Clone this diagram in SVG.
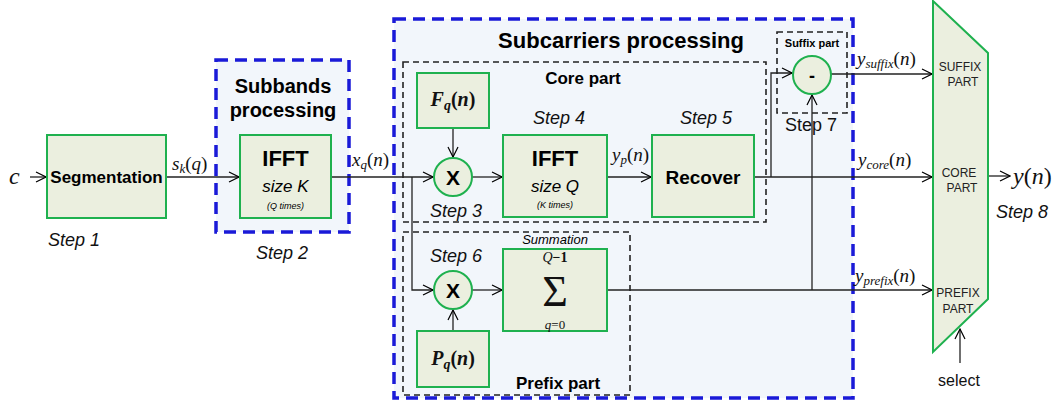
<svg xmlns="http://www.w3.org/2000/svg" width="1054" height="406" viewBox="0 0 1054 406">
<defs>
<marker id="arr" markerWidth="12" markerHeight="12" refX="11" refY="6" orient="auto" markerUnits="userSpaceOnUse">
<path d="M1,1 L11,6 L1,11" fill="none" stroke="#000" stroke-width="1.2"/>
</marker>
<style>
.box{fill:#ebefdf;stroke:#1fb14f;stroke-width:2}
.blue{fill:#f2f6fb;stroke:#1a1ad8;stroke-width:3.5;stroke-dasharray:12 7}
.blk{fill:none;stroke:#222;stroke-width:1.6;stroke-dasharray:6 4}
.ln{fill:none;stroke:#222;stroke-width:1.3}
.sans{font-family:"Liberation Sans",Arial,sans-serif}
.b{font-weight:bold}
.it{font-style:italic}
.step{font-family:"Liberation Sans",Arial,sans-serif;font-style:italic;font-size:18px;fill:#111}
.math{font-family:"Liberation Serif","DejaVu Serif",serif;fill:#111}
.mux{font-family:"Liberation Sans",Arial,sans-serif;font-size:12px;fill:#222}
</style>
</defs>
<rect width="1054" height="406" fill="#fff"/>

<!-- containers -->
<g id="subbands">
<rect class="blue" x="216" y="60" width="133" height="172"/>
<text class="sans b" x="283" y="93" font-size="20" text-anchor="middle">Subbands</text>
<text class="sans b" x="283" y="117" font-size="20" text-anchor="middle">processing</text>
</g>
<g id="subcarriers">
<rect class="blue" x="394" y="19" width="459" height="379"/>
<text class="sans b" x="621" y="48" font-size="22" text-anchor="middle">Subcarriers processing</text>
</g>
<g id="corepart">
<rect class="blk" x="403" y="62" width="363" height="160"/>
<text class="sans b" x="583" y="84" font-size="17" text-anchor="middle">Core part</text>
</g>
<g id="prefixpart">
<rect class="blk" x="403" y="232" width="227" height="163"/>
<text class="sans b" x="558" y="389" font-size="17" text-anchor="middle">Prefix part</text>
</g>
<g id="suffixpart">
<rect class="blk" x="777" y="32" width="70" height="81"/>
<text class="sans b" x="812" y="47" font-size="11" text-anchor="middle">Suffix part</text>
</g>

<!-- connectors -->
<g id="connectors">
<path class="ln" d="M30,177 H46" marker-end="url(#arr)"/>
<path class="ln" d="M166,177 H239" marker-end="url(#arr)"/>
<path class="ln" d="M331,177 H433" marker-end="url(#arr)"/>
<path class="ln" d="M412,177 V290 H433" marker-end="url(#arr)"/>
<path class="ln" d="M453,128 V157" marker-end="url(#arr)"/>
<path class="ln" d="M453,331 V310" marker-end="url(#arr)"/>
<path class="ln" d="M472,177 H502" marker-end="url(#arr)"/>
<path class="ln" d="M472,290 H502" marker-end="url(#arr)"/>
<path class="ln" d="M607,177 H651" marker-end="url(#arr)"/>
<path class="ln" d="M754,177 H932" marker-end="url(#arr)"/>
<path class="ln" d="M771,177 V73 H792" marker-end="url(#arr)"/>
<path class="ln" d="M607,290 H932" marker-end="url(#arr)"/>
<path class="ln" d="M812,290 V95" marker-end="url(#arr)"/>
<path class="ln" d="M831,74 H932" marker-end="url(#arr)"/>
<path class="ln" d="M988,176 H1010" marker-end="url(#arr)"/>
<path class="ln" d="M960,363 V329" marker-end="url(#arr)"/>
</g>

<!-- nodes -->
<g id="input"><text class="math it" x="9" y="184" style="font-size:24px">c</text></g>
<g id="segmentation">
<rect class="box" x="47" y="135" width="119" height="83"/>
<text class="sans b" x="106.5" y="183" font-size="17" text-anchor="middle">Segmentation</text>
</g>
<g id="ifftK">
<rect class="box" x="240" y="135" width="91" height="83"/>
<text class="sans b" x="285.5" y="166" font-size="22" text-anchor="middle">IFFT</text>
<text class="sans it" x="285.5" y="192" font-size="17" text-anchor="middle">size K</text>
<text class="sans it" x="285.5" y="209" font-size="9" text-anchor="middle">(Q times)</text>
</g>
<g id="Fq">
<rect class="box" x="417" y="73" width="72" height="55"/>
<text class="math b" x="453" y="106" style="font-size:20px" text-anchor="middle"><tspan class="it">F</tspan><tspan class="it" style="font-size:14px" dy="4">q</tspan><tspan dy="-4">(</tspan><tspan class="it">n</tspan>)</text>
</g>
<g id="mul1">
<circle cx="453" cy="177" r="19" fill="#ebefdf" stroke="#1fb14f" stroke-width="2"/>
<text class="sans b" x="453" y="185" font-size="21" text-anchor="middle">X</text>
</g>
<g id="ifftQ">
<rect class="box" x="503" y="135" width="104" height="82"/>
<text class="sans b" x="555" y="166" font-size="22" text-anchor="middle">IFFT</text>
<text class="sans it" x="555" y="192" font-size="17" text-anchor="middle">size Q</text>
<text class="sans it" x="555" y="208" font-size="9" text-anchor="middle">(K times)</text>
</g>
<g id="recover">
<rect class="box" x="652" y="135" width="102" height="82"/>
<text class="sans b" x="703" y="184" font-size="19" text-anchor="middle">Recover</text>
</g>
<g id="minus">
<circle cx="812" cy="75" r="19" fill="#ebefdf" stroke="#1fb14f" stroke-width="2"/>
<text class="sans b" x="812" y="82" font-size="18" text-anchor="middle">-</text>
</g>
<g id="mul2">
<circle cx="453" cy="290" r="19" fill="#ebefdf" stroke="#1fb14f" stroke-width="2"/>
<text class="sans b" x="453" y="298" font-size="21" text-anchor="middle">X</text>
</g>
<g id="Pq">
<rect class="box" x="417" y="331" width="72" height="56"/>
<text class="math b" x="453" y="365" style="font-size:20px" text-anchor="middle"><tspan class="it">P</tspan><tspan class="it" style="font-size:14px" dy="4">q</tspan><tspan dy="-4">(</tspan><tspan class="it">n</tspan>)</text>
</g>
<g id="summation">
<rect class="box" x="503" y="249" width="104" height="82"/>
<text class="sans it" x="555" y="244" font-size="13" text-anchor="middle">Summation</text>
<text class="math" text-anchor="middle" style="font-size:14px"><tspan x="555" y="262"><tspan class="it">Q</tspan><tspan font-weight="bold">−1</tspan></tspan><tspan x="555" y="306" style="font-size:44px">Σ</tspan><tspan x="555" y="329" style="font-size:13px"><tspan class="it">q</tspan>=0</tspan></text>
</g>
<g id="mux">
<path d="M933,1 L988,53 L988,299 L933,352 Z" fill="#ebefdf" stroke="#1fb14f" stroke-width="2"/>
<text class="mux" x="960" y="71" text-anchor="middle">SUFFIX</text>
<text class="mux" x="963" y="86" text-anchor="middle">PART</text>
<text class="mux" x="959" y="177" text-anchor="middle">CORE</text>
<text class="mux" x="962" y="192" text-anchor="middle">PART</text>
<text class="mux" x="958" y="297" text-anchor="middle">PREFIX</text>
<text class="mux" x="958" y="313" text-anchor="middle">PART</text>
</g>
<g id="select"><text class="sans" x="959" y="386" font-size="16" text-anchor="middle" fill="#111">select</text></g>
<g id="output"><text class="math" x="1013" y="184" style="font-size:24px"><tspan class="it">y</tspan>(<tspan class="it">n</tspan>)</text></g>

<!-- signal labels -->
<g id="labels" class="math" style="font-size:19px">
<text x="172" y="170"><tspan class="it">s</tspan><tspan class="it" style="font-size:13px" dy="3">k</tspan><tspan dy="-3">(</tspan><tspan class="it">q</tspan>)</text>
<text x="352" y="166"><tspan class="it">x</tspan><tspan class="it" style="font-size:13px" dy="3">q</tspan><tspan dy="-3">(</tspan><tspan class="it">n</tspan>)</text>
<text x="612" y="161"><tspan class="it">y</tspan><tspan class="it" style="font-size:13px" dy="3">p</tspan><tspan dy="-3">(</tspan><tspan class="it">n</tspan>)</text>
<text x="857" y="65"><tspan class="it">y</tspan><tspan class="it" style="font-size:13px" dy="3">suffix</tspan><tspan dy="-3">(</tspan><tspan class="it">n</tspan>)</text>
<text x="858" y="166"><tspan class="it">y</tspan><tspan class="it" style="font-size:13px" dy="3">core</tspan><tspan dy="-3">(</tspan><tspan class="it">n</tspan>)</text>
<text x="855" y="282"><tspan class="it">y</tspan><tspan class="it" style="font-size:13px" dy="3">prefix</tspan><tspan dy="-3">(</tspan><tspan class="it">n</tspan>)</text>
</g>

<!-- step labels -->
<g id="steps">
<text class="step" x="48" y="246">Step 1</text>
<text class="step" x="256" y="259">Step 2</text>
<text class="step" x="430" y="217">Step 3</text>
<text class="step" x="533" y="124">Step 4</text>
<text class="step" x="680" y="124">Step 5</text>
<text class="step" x="430" y="262">Step 6</text>
<text class="sans" x="785" y="131" font-size="18" fill="#111">Step 7</text>
<text class="step" x="996" y="218">Step 8</text>
</g>
</svg>
